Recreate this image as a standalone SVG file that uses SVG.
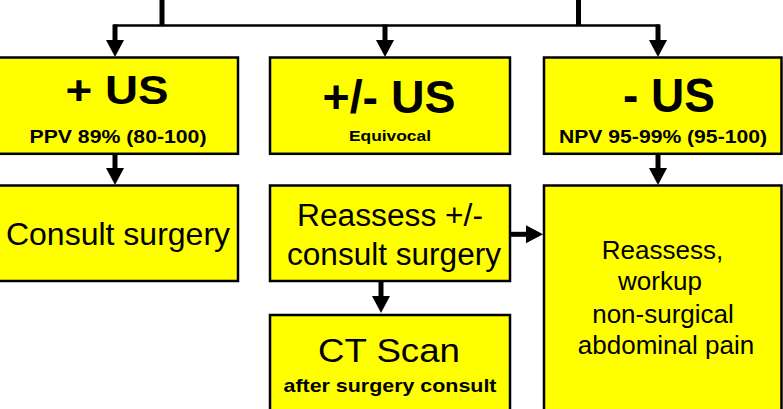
<svg xmlns="http://www.w3.org/2000/svg" width="783" height="409" viewBox="0 0 783 409">
<defs>
<style>
.box{fill:#ffff00;stroke:#000;stroke-width:2.5}
.t{font-family:"Liberation Sans",Arial,sans-serif;fill:#000;text-anchor:middle}
.b{font-weight:bold}
.ln{stroke:#000;fill:none}
.sh{stroke:#000;stroke-width:5;fill:none;marker-end:url(#ah)}
</style>
<marker id="ah" markerUnits="userSpaceOnUse" markerWidth="18" markerHeight="20" refX="0" refY="9" orient="auto" overflow="visible">
<path d="M0,0 L17,9 L0,18 Z" fill="#000"/>
</marker>
</defs>
<rect width="783" height="409" fill="#fff"/>
<g id="connectors">
<line class="ln" x1="162" y1="0" x2="162" y2="26" stroke-width="5"/>
<line class="ln" x1="578.5" y1="0" x2="578.5" y2="26" stroke-width="5"/>
<line class="ln" x1="113.5" y1="25.5" x2="659.5" y2="25.5" stroke-width="2.5"/>
<line class="sh" x1="115" y1="24.5" x2="115" y2="40" stroke-width="4"/>
<line class="sh" x1="385" y1="24.5" x2="385" y2="40" stroke-width="4"/>
<line class="sh" x1="658" y1="24.5" x2="658" y2="40" stroke-width="4"/>
<line class="sh" x1="115" y1="155" x2="115" y2="168"/>
<line class="sh" x1="658" y1="155" x2="658" y2="168"/>
<line class="sh" x1="381" y1="282" x2="381" y2="296"/>
<line class="sh" x1="511" y1="234.3" x2="526" y2="234.3"/>
</g>
<g id="pos-us">
<rect class="box" x="-3" y="57.5" width="241" height="96.3"/>
<text class="t b" x="117" y="104" font-size="40" textLength="103" lengthAdjust="spacingAndGlyphs">+ US</text>
<text class="t b" x="118" y="143" font-size="18.5" textLength="177" lengthAdjust="spacingAndGlyphs">PPV 89% (80-100)</text>
</g>
<g id="equiv-us">
<rect class="box" x="270" y="57.5" width="240" height="96.3"/>
<text class="t b" x="389" y="113" font-size="47" textLength="133" lengthAdjust="spacingAndGlyphs">+/- US</text>
<text class="t b" x="390" y="141" font-size="15" textLength="82" lengthAdjust="spacingAndGlyphs">Equivocal</text>
</g>
<g id="neg-us">
<rect class="box" x="544" y="57.5" width="237.5" height="96.3"/>
<text class="t b" x="669" y="111.7" font-size="48" textLength="92" lengthAdjust="spacingAndGlyphs">- US</text>
<text class="t b" x="663" y="142.7" font-size="17.7" textLength="208" lengthAdjust="spacingAndGlyphs">NPV 95-99% (95-100)</text>
</g>
<g id="consult">
<rect class="box" x="-3" y="185.5" width="241" height="95.5"/>
<text class="t" x="118" y="245" font-size="32">Consult surgery</text>
</g>
<g id="reassess">
<rect class="box" x="270" y="185.5" width="240" height="95.5"/>
<text class="t" x="390" y="226" font-size="31" textLength="186" lengthAdjust="spacingAndGlyphs">Reassess +/-</text>
<text class="t" x="394" y="265" font-size="31" textLength="214" lengthAdjust="spacingAndGlyphs">consult surgery</text>
</g>
<g id="ct-scan">
<rect class="box" x="270" y="315" width="240" height="100"/>
<text class="t" x="389" y="361.7" font-size="33" textLength="142" lengthAdjust="spacingAndGlyphs">CT Scan</text>
<text class="t b" x="390" y="391.7" font-size="18.5" textLength="213" lengthAdjust="spacingAndGlyphs">after surgery consult</text>
</g>
<g id="workup">
<rect class="box" x="544" y="185.5" width="237.5" height="230"/>
<text class="t" x="662.5" y="259.3" font-size="26">Reassess,</text>
<text class="t" x="660" y="290" font-size="26">workup</text>
<text class="t" x="663" y="323.3" font-size="26">non-surgical</text>
<text class="t" x="666" y="354" font-size="26">abdominal pain</text>
</g>
</svg>
